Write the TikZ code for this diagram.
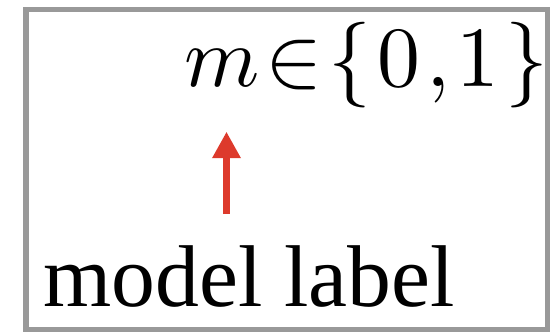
\RequirePackage{fix-cm}
\documentclass[tikz,border=0pt]{standalone}
\usepackage{graphicx}
\usepackage{fontspec}
\newfontfamily\lblfont{Liberation Serif}
\usetikzlibrary{arrows.meta}
\definecolor{framegray}{RGB}{153,153,153}
\definecolor{arrowred}{RGB}{221,58,44}
\newcommand{\gk}{\mkern1.3mu}
\tikzset{
  frameline/.style={draw=framegray, line width=5.5bp},
  txt/.style={anchor=base west, inner sep=0pt, outer sep=0pt},
  redarrow/.style={draw=arrowred, line width=6.5bp,
    -{Triangle[width=27bp,length=26.5bp]}}
}
\begin{document}
\begin{tikzpicture}[x=1bp,y=-1bp]
  \useasboundingbox (0,0) rectangle (550,331);
  \draw[frameline] (26,9.5) rectangle (547.5,329.5);
  \node[txt] (math) at (184,86.7)
    {\scalebox{8.6}{$m\gk\mathord{\in}\gk\{\gk0\gk{,}\gk1\gk\}$}};
  \node[txt] (lbl) at (43.5,306.7)
    {\lblfont\fontsize{88}{100}\selectfont model label};
  \coordinate (a0) at (226.5,214);
  \coordinate (a1) at (226.5,131.7);
  \draw[redarrow] (a0) -- (a1);
\end{tikzpicture}
\end{document}
